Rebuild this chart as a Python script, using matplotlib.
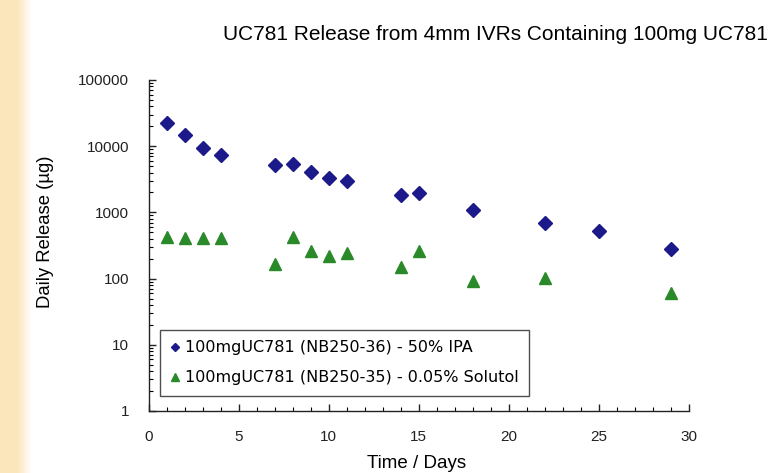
import matplotlib
matplotlib.use("Agg")
import matplotlib.pyplot as plt
from matplotlib.patches import Rectangle
from matplotlib.ticker import LogLocator, MultipleLocator, NullFormatter, FixedLocator
import numpy as np

plt.rcParams['font.family'] = ['Liberation Sans', 'DejaVu Sans']

# data
days_ipa = [1, 2, 3, 4, 7, 8, 9, 10, 11, 14, 15, 18, 22, 25, 29]
release_ipa = [22200, 14800, 9500, 7400, 5150, 5400, 4070, 3300, 2950,
               1860, 1950, 1090, 700, 530, 280]

days_sol = [1, 2, 3, 4, 7, 8, 9, 10, 11, 14, 15, 18, 22, 29]
release_sol = [430, 406, 406, 406, 166, 420, 264, 219, 246,
               151, 264, 93, 103, 61]

label_ipa = "100mgUC781 (NB250-36) - 50% IPA"
label_sol = "100mgUC781 (NB250-35) - 0.05% Solutol"
y_ticks = [1, 10, 100, 1000, 10000, 100000]
x_ticks = [0, 5, 10, 15, 20, 25, 30]

W, H = 781, 473
fig = plt.figure(figsize=(W / 100, H / 100), dpi=100)
fig.patch.set_facecolor('white')

# beige strip on the left edge
fig.patches.append(Rectangle((0, 0), 17 / W, 1, transform=fig.transFigure,
                             color='#fbe5bb', zorder=-10))
grad = np.linspace(0, 1, 15)
for i, g in enumerate(grad):
    c = np.array([251, 229, 187]) / 255 * (1 - g) + np.array([1, 1, 1]) * g
    fig.patches.append(Rectangle(((17 + i) / W, 0), 1.05 / W, 1,
                                 transform=fig.transFigure, color=c, zorder=-10))

x0, x1 = 148.5, 688.5
y_top, y_bot = 80, 411
ax = fig.add_axes([x0 / W, 1 - y_bot / H, (x1 - x0) / W, (y_bot - y_top) / H])
ax.set_facecolor('none')

ax.plot(days_ipa, release_ipa, linestyle='none', marker='D', ms=7.5,
        color='#1c1a8a', label=label_ipa)
ax.plot(days_sol, release_sol, linestyle='none', marker='^', ms=8.5,
        color='#2a8a2a', label=label_sol)

ax.set_yscale('log')
ax.set_ylim(1, 100000)
ax.set_xlim(0, 30)

ax.yaxis.set_major_locator(FixedLocator(y_ticks))
ax.set_yticklabels([str(v) for v in y_ticks])
ax.yaxis.set_minor_locator(LogLocator(base=10, subs=np.arange(2, 10)))
ax.yaxis.set_minor_formatter(NullFormatter())
ax.set_xticks(x_ticks)
ax.xaxis.set_minor_locator(MultipleLocator(1))

for s in ['top', 'right']:
    ax.spines[s].set_visible(False)
for s in ['left', 'bottom']:
    ax.spines[s].set_linewidth(1.0)
    ax.spines[s].set_color('#222222')

ax.tick_params(axis='both', which='major', direction='in', length=5,
               width=1, labelsize=11, pad=14, colors='#222222')
ax.tick_params(axis='both', which='minor', direction='in', length=3, width=0.8)

fig.text(417 / W, 1 - 463 / H, 'Time / Days', ha='center', va='center',
         fontsize=13.5)
fig.text(46 / W, 1 - 232 / H, 'Daily Release (µg)', ha='center', va='center',
         rotation=90, fontsize=13.3)
fig.text(495 / W, 1 - 35 / H, 'UC781 Release from 4mm IVRs Containing 100mg UC781',
         ha='center', va='center', fontsize=15)

leg = ax.legend(loc='upper left', bbox_to_anchor=(0.021, 0.245),
                prop={'family': 'DejaVu Sans', 'size': 11.5},
                frameon=True, fancybox=False, borderpad=0.65, labelspacing=0.95,
                handlelength=0.6, handletextpad=0.3, markerscale=0.6,
                borderaxespad=0)
leg.get_frame().set_edgecolor('#222222')
leg.get_frame().set_linewidth(1.0)

fig.savefig('out.png', dpi=100)
